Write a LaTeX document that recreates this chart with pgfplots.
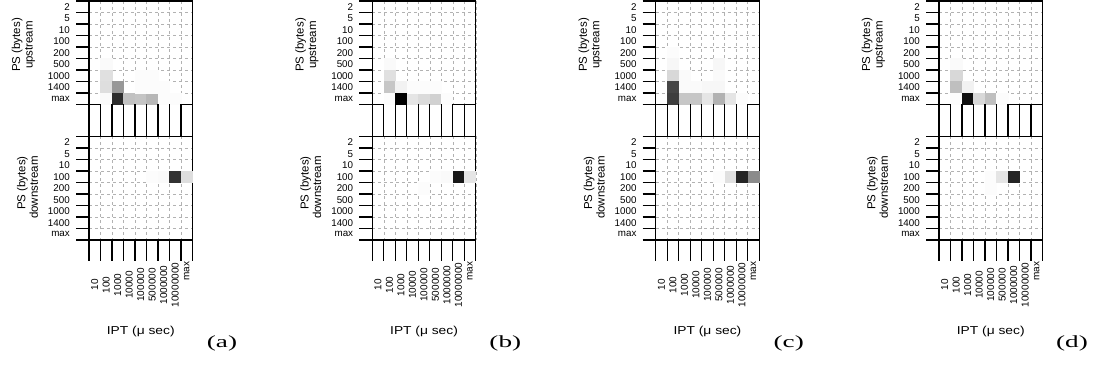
\documentclass[border=0pt]{standalone}
\usepackage{fontspec}
\setmainfont{Liberation Sans}
\newfontfamily\seriffont{Liberation Serif}
\usepackage{graphicx}
\usepackage{pgfplots}
\pgfplotsset{compat=1.18}

\pgfplotsset{
  hm/.style={
    scale only axis, width=103.5pt, height=103.5pt, anchor=north west,
    xmin=0.5, xmax=9.5, ymin=0.5, ymax=9.5, y dir=reverse,
    xtick={1,...,9}, ytick={1,...,9},
    minor xtick={0.5,1.5,...,9.5}, minor ytick={0.5,1.5,...,9.5},
    major tick length=0pt, minor tick length=13pt, tick align=outside,
    xtick pos=bottom, ytick pos=left,
    grid=minor,
    minor grid style={gray!60, dash pattern=on 3pt off 3pt, line width=0.5pt},
    minor tick style={black, line width=1.1pt},
    axis line style={line width=1.4pt},
    colormap={bw}{gray(0cm)=(1); gray(1cm)=(0)},
    point meta min=0, point meta max=1,
    yticklabels={2,5,10,100,200,500,1000,1400,max},
    yticklabel style={font=\fontsize{9.8}{10}\selectfont, inner sep=0pt, anchor=east, xshift=-19pt},
  },
  up/.style={hm, xticklabels={}},
  dn/.style={hm,
    xticklabels={10,100,1000,10000,100000,500000,1000000,10000000,\hspace*{28pt}max},
    xticklabel style={font=\fontsize{10}{10}\selectfont, inner sep=0pt, yshift=-45pt, rotate=90, anchor=center},
    xlabel={\scalebox{1.2}[1]{IPT (μ sec)}},
    every axis x label/.style={at={(axis description cs:0.5,0)}, anchor=center, yshift=-92pt, font=\fontsize{11.5}{12}\selectfont}},
  tk/.style={scale only axis, width=103.5pt, height=103.5pt, anchor=north west,
    xmin=0.5, xmax=9.5, ymin=0, ymax=1, xtick={0.5,1.5,...,9.5}, xticklabels={}, ytick=\empty,
    xtick pos=bottom, tick align=outside, major tick length=#1,
    major tick style={black, line width=1.1pt}, axis line style={draw=none}},
  hmplot/.style={scatter, only marks, mark=square*, mark size=5.6pt,
    scatter/use mapped color={draw=mapped color, fill=mapped color}, point meta=explicit},
}
\tikzset{
  uplab/.style={rotate=90, align=center, inner sep=0pt, font=\fontsize{11.5}{12.5}\selectfont},
  dnlab/.style={rotate=90, align=right, inner sep=0pt, font=\fontsize{11.5}{12.5}\selectfont},
  panlab/.style={font=\seriffont\fontsize{17}{17}\selectfont},
}

\begin{document}
\begin{tikzpicture}
\useasboundingbox (0pt,0pt) rectangle (1097pt,366pt);

% ---------- (a) ----------
\begin{axis}[up, at={(89pt,365pt)}]
\addplot[hmplot] table[meta=c]{
x y c
2 6 0.02
2 7 0.12
2 8 0.13
3 8 0.40
2 9 0.02
3 9 0.82
4 9 0.24
5 9 0.23
6 9 0.28
7 9 0.012
8 9 0.012
5 7 0.012
6 7 0.012
5 8 0.012
6 8 0.012
7 8 0.012
};
\end{axis}
\begin{axis}[tk=32pt, at={(89pt,365pt)}]\end{axis}
\begin{axis}[dn, at={(89pt,229.5pt)}]
\addplot[hmplot] table[meta=c]{
x y c
6 4 0.012
7 4 0.02
8 4 0.80
9 4 0.13
};
\end{axis}
\begin{axis}[tk=21pt, at={(89pt,229.5pt)}]\end{axis}
\node[uplab] at (23.5pt,321pt) {PS (bytes)\\upstream};
\node[dnlab] at (27.5pt,178.5pt) {PS (bytes)\\downstream};
\node[panlab] at (222pt,22.5pt) {\scalebox{1.6}[1]{(a)}};

% ---------- (b) ----------
\begin{axis}[up, at={(372.3pt,365pt)}]
\addplot[hmplot] table[meta=c]{
x y c
2 6 0.02
2 7 0.12
2 8 0.22
3 8 0.05
2 9 0.012
3 9 1.00
4 9 0.10
5 9 0.14
6 9 0.18
7 9 0.012
4 8 0.012
5 8 0.012
6 8 0.012
};
\end{axis}
\begin{axis}[tk=32pt, at={(372.3pt,365pt)}]\end{axis}
\begin{axis}[dn, at={(372.3pt,229.5pt)}]
\addplot[hmplot] table[meta=c]{
x y c
5 5 0.012
6 4 0.012
7 4 0.02
8 4 0.90
9 4 0.10
};
\end{axis}
\begin{axis}[tk=21pt, at={(372.3pt,229.5pt)}]\end{axis}
\node[uplab] at (306.8pt,321pt) {PS (bytes)\\upstream};
\node[dnlab] at (310.8pt,178.5pt) {PS (bytes)\\downstream};
\node[panlab] at (505.3pt,22.5pt) {\scalebox{1.6}[1]{(b)}};

% ---------- (c) ----------
\begin{axis}[up, at={(655.7pt,365pt)}]
\addplot[hmplot] table[meta=c]{
x y c
2 5 0.012
2 6 0.03
6 6 0.03
2 7 0.15
3 7 0.02
6 7 0.02
2 8 0.72
3 8 0.02
4 8 0.02
5 8 0.03
6 8 0.03
2 9 0.75
3 9 0.22
4 9 0.22
5 9 0.10
6 9 0.30
7 9 0.10
8 9 0.012
};
\end{axis}
\begin{axis}[tk=32pt, at={(655.7pt,365pt)}]\end{axis}
\begin{axis}[dn, at={(655.7pt,229.5pt)}]
\addplot[hmplot] table[meta=c]{
x y c
6 4 0.012
7 4 0.12
8 4 0.85
9 4 0.45
};
\end{axis}
\begin{axis}[tk=21pt, at={(655.7pt,229.5pt)}]\end{axis}
\node[uplab] at (590.2pt,321pt) {PS (bytes)\\upstream};
\node[dnlab] at (594.2pt,178.5pt) {PS (bytes)\\downstream};
\node[panlab] at (788.7pt,22.5pt) {\scalebox{1.6}[1]{(c)}};

% ---------- (d) ----------
\begin{axis}[up, at={(939pt,365pt)}]
\addplot[hmplot] table[meta=c]{
x y c
2 6 0.02
2 7 0.15
2 8 0.25
3 8 0.05
2 9 0.012
3 9 0.93
4 9 0.15
5 9 0.25
6 9 0.012
};
\end{axis}
\begin{axis}[tk=32pt, at={(939pt,365pt)}]\end{axis}
\begin{axis}[dn, at={(939pt,229.5pt)}]
\addplot[hmplot] table[meta=c]{
x y c
5 4 0.012
5 5 0.012
6 4 0.10
7 4 0.85
};
\end{axis}
\begin{axis}[tk=21pt, at={(939pt,229.5pt)}]\end{axis}
\node[uplab] at (873.5pt,321pt) {PS (bytes)\\upstream};
\node[dnlab] at (877.5pt,178.5pt) {PS (bytes)\\downstream};
\node[panlab] at (1072pt,22.5pt) {\scalebox{1.6}[1]{(d)}};

\end{tikzpicture}
\end{document}
